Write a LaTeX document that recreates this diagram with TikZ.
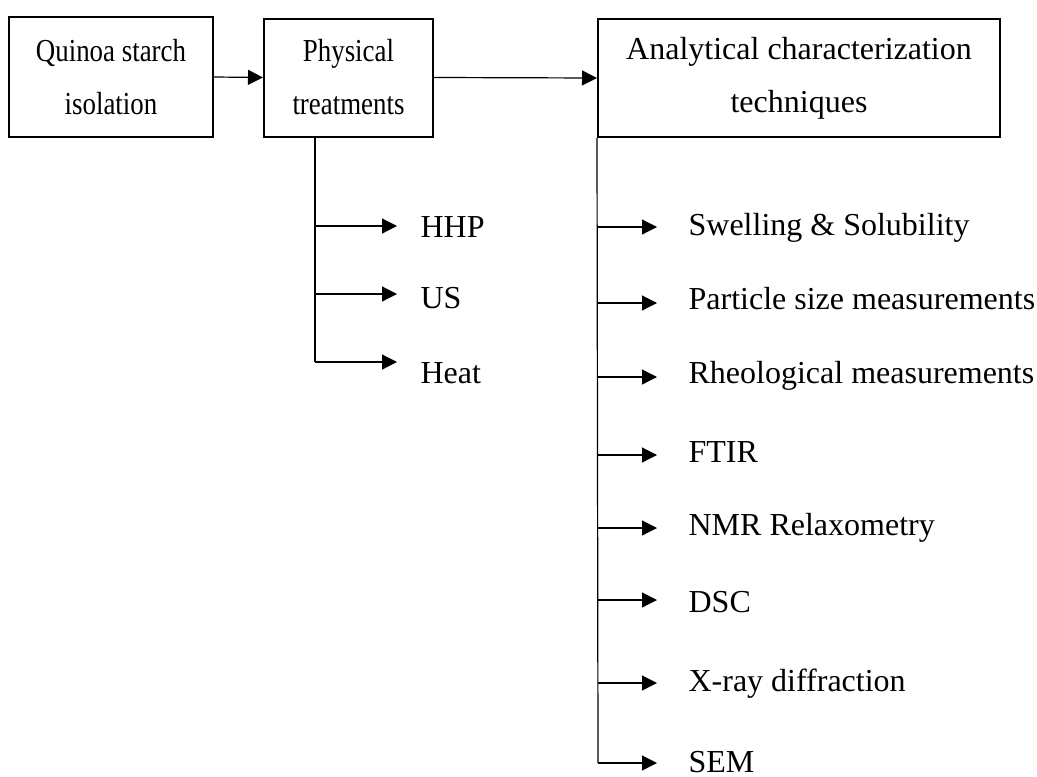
\documentclass[tikz,border=0pt]{standalone}
\usepackage{fontspec}
\setmainfont{Liberation Serif}
\newfontfamily\narrowfont[FakeStretch=0.84]{Liberation Serif}
\usetikzlibrary{arrows.meta,positioning}
\definecolor{inkBlack}{HTML}{000000}

\begin{document}
\begin{tikzpicture}[
  x=0.5pt, y=-0.5pt,
  font=\fontsize{16}{26.5}\selectfont,
  >={Triangle[length=7.5pt,width=7.5pt]},
  line width=0.6pt,
  every node/.style={inner sep=0pt},
  % --- Reusable styles -------------------------------------------------------
  block/.style={                 % framed step, width via #1
    rectangle, draw=inkBlack, line width=1pt, text=inkBlack,
    minimum width=#1, minimum height=59pt, align=center,
  },
  narrow/.style={font=\narrowfont\fontsize{16}{26.5}\selectfont},
  item/.style={anchor=base west, text=inkBlack},   % list entry
  flow/.style={->, draw=inkBlack},
  branch/.style={->, draw=inkBlack, shorten >=#1},
  trunk/.style={draw=inkBlack},
]
\useasboundingbox (0,0) rectangle (1037,776);

% --- Nodes -------------------------------------------------------------------
\node[block=102pt, narrow, minimum height=60pt] (quinoa)   at (111,77)   {Quinoa starch\\isolation};
\node[block=84.5pt, narrow]                     (physical) at (348.5,77.5) {Physical\\treatments};
\node[block=201pt]                              (analysis) at (799,78)   {Analytical characterization\\techniques};

% treatments
\node[item] (hhp)  at (420,237) {HHP};
\node[item] (us)   at (420,308) {US};
\node[item] (heat) at (420,383) {Heat};

% techniques
\node[item] (swell)    at (688,235) {Swelling \& Solubility};
\node[item] (particle) at (688,309) {Particle size measurements};
\node[item] (rheo)     at (688,383) {Rheological measurements};
\node[item] (ftir)     at (688,462) {FTIR};
\node[item] (nmr)      at (688,535) {NMR Relaxometry};
\node[item] (dsc)      at (688,612) {DSC};
\node[item] (xrd)      at (688,691) {X-ray diffraction};
\node[item] (sem)      at (688,772) {SEM};

% --- Arrows ------------------------------------------------------------------
\draw[flow] (quinoa.east) -- (physical.west);
\draw[flow] (physical.east) -- (analysis.west);

% --- Treatment branches ------------------------------------------------------
\coordinate (hhpJ)  at (315,226);
\coordinate (usJ)   at (315,294);
\coordinate (heatJ) at (315,362);
\draw[trunk] (physical.south -| heatJ) -- (heatJ);
\draw[branch=11.5pt] (hhpJ)  -- (hhpJ -| hhp.west);
\draw[branch=11.5pt] (usJ)   -- (usJ -| us.west);
\draw[branch=11.5pt] (heatJ) -- (heatJ -| heat.west);

% --- Technique branches ------------------------------------------------------
\coordinate (swellJ)    at (598,227);
\coordinate (particleJ) at (598,303);
\coordinate (rheoJ)     at (598,377);
\coordinate (ftirJ)     at (598,455);
\coordinate (nmrJ)      at (598,528);
\coordinate (dscJ)      at (598,600);
\coordinate (xrdJ)      at (598,683);
\coordinate (semJ)      at (598,763);
\draw[trunk] (analysis.south west) -- (semJ);
\draw[branch=15.5pt] (swellJ)    -- (swellJ -| swell.west);
\draw[branch=15.5pt] (particleJ) -- (particleJ -| particle.west);
\draw[branch=15.5pt] (rheoJ)     -- (rheoJ -| rheo.west);
\draw[branch=15.5pt] (ftirJ)     -- (ftirJ -| ftir.west);
\draw[branch=15.5pt] (nmrJ)      -- (nmrJ -| nmr.west);
\draw[branch=15.5pt] (dscJ)      -- (dscJ -| dsc.west);
\draw[branch=15.5pt] (xrdJ)      -- (xrdJ -| xrd.west);
\draw[branch=15.5pt] (semJ)      -- (semJ -| sem.west);

\end{tikzpicture}
\end{document}
